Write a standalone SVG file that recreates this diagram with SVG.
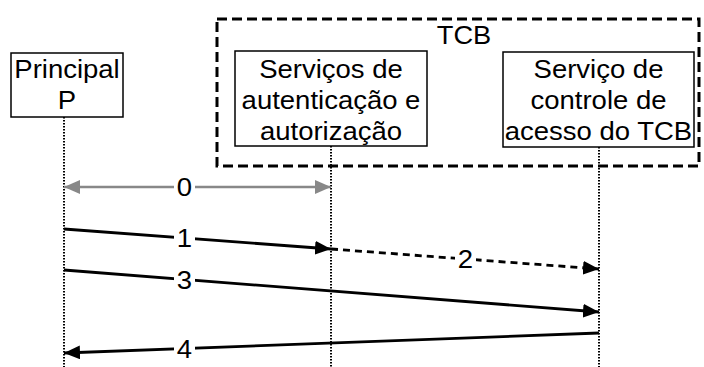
<svg xmlns="http://www.w3.org/2000/svg" width="704" height="367" viewBox="0 0 704 367">
<defs>
<style>
text{font-family:"Liberation Sans",Arial,sans-serif;font-size:25px;fill:#000;text-anchor:middle}
.box{fill:#fff;stroke:#000;stroke-width:1.5}
.life{stroke:#000;stroke-width:2;stroke-dasharray:1.5 1.5;fill:none}
.msg{stroke:#000;stroke-width:2.8;fill:none}
.lbl{fill:#fff;stroke:none}
</style>
<marker id="ah" markerUnits="userSpaceOnUse" markerWidth="17" markerHeight="14" refX="16" refY="7" orient="auto">
<path d="M0,0 L16,7 L0,14 Z" fill="#000"/>
</marker>
<marker id="ag" markerUnits="userSpaceOnUse" markerWidth="17" markerHeight="14" refX="16" refY="7" orient="auto-start-reverse">
<path d="M0,0 L16,7 L0,14 Z" fill="#888"/>
</marker>
</defs>
<rect id="tcb" x="217" y="19" width="482" height="147" fill="none" stroke="#000" stroke-width="3" stroke-dasharray="10 5"/>
<g transform="translate(464,0) scale(1.09,1)"><text x="0" y="44">TCB</text></g>
<g id="lifelines">
<line class="life" x1="64" y1="117" x2="64" y2="367"/>
<line class="life" x1="331" y1="146" x2="331" y2="367"/>
<line class="life" x1="599" y1="147" x2="599" y2="367"/>
</g>
<g id="principal">
<rect class="box" x="11" y="53" width="112" height="64"/>
<g transform="translate(67,0) scale(1.1,1)">
<text x="0" y="78">Principal</text>
<text x="0" y="109">P</text>
</g>
</g>
<g id="auth">
<rect class="box" x="235" y="51" width="192" height="95"/>
<g transform="translate(331,0) scale(1.1,1)">
<text x="0" y="78">Serviços de</text>
<text x="0" y="109">autenticação e</text>
<text x="0" y="140">autorização</text>
</g>
</g>
<g id="access">
<rect class="box" x="503" y="52" width="191" height="95"/>
<g transform="translate(598.5,0) scale(1.1,1)">
<text x="0" y="78">Serviço de</text>
<text x="0" y="109">controle de</text>
<text x="0" y="140">acesso do TCB</text>
</g>
</g>
<g id="connectors">
<line x1="64" y1="187" x2="331" y2="187" stroke="#888" stroke-width="2.5" marker-start="url(#ag)" marker-end="url(#ag)"/>
<rect class="lbl" x="174" y="175" width="21" height="24"/>
<line class="msg" x1="64" y1="229" x2="331" y2="249" marker-end="url(#ah)"/>
<rect class="lbl" x="174" y="226" width="21" height="24"/>
<line class="msg" x1="331" y1="249" x2="599" y2="269" stroke-dasharray="7 5" marker-end="url(#ah)"/>
<rect class="lbl" x="455" y="247" width="21" height="24"/>
<line class="msg" x1="64" y1="270" x2="599" y2="312" marker-end="url(#ah)"/>
<rect class="lbl" x="174" y="268" width="21" height="24"/>
<line class="msg" x1="599" y1="333" x2="64" y2="353" marker-end="url(#ah)"/>
<rect class="lbl" x="174" y="337" width="21" height="24"/>
<g transform="translate(184.5,0) scale(1.1,1)">
<text x="0" y="196">0</text>
<text x="0" y="247">1</text>
<text x="0" y="289">3</text>
<text x="0" y="358">4</text>
</g>
<g transform="translate(465.5,0) scale(1.1,1)"><text x="0" y="268">2</text></g>
</g>
</svg>
